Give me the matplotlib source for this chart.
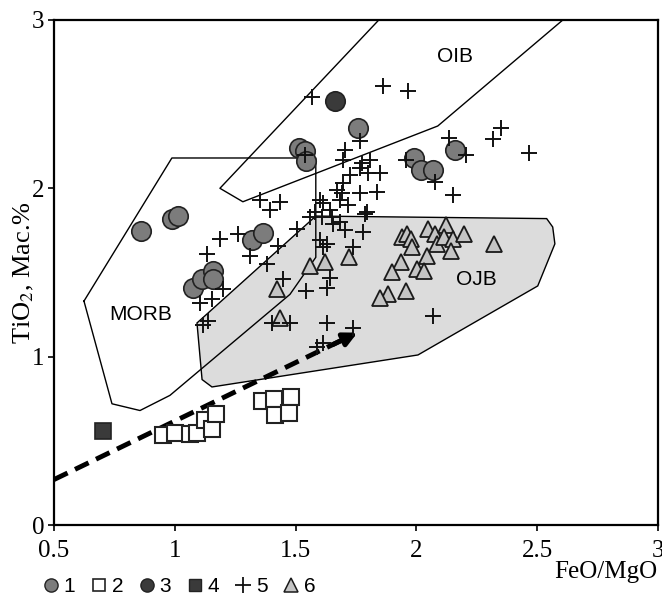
import matplotlib
matplotlib.use("Agg")
import matplotlib.pyplot as plt
from matplotlib.lines import Line2D

plt.rcParams['font.family'] = ['Liberation Serif', 'DejaVu Serif']
plt.rcParams['mathtext.fontset'] = 'stix'

# field outlines (FeO/MgO, TiO2)
morb_x = [0.624, 0.988, 1.584, 1.584, 1.477, 0.98, 0.856, 0.74, 0.624]
morb_y = [1.33, 2.18, 2.18, 1.59, 1.37, 0.77, 0.68, 0.72, 1.33]
oib_x = [1.845, 1.187, 1.282, 2.089, 2.607]
oib_y = [3.0, 2.0, 1.92, 2.37, 3.0]
ojb_x = [1.092, 1.113, 1.154, 2.007, 2.503, 2.574, 2.565, 2.54, 1.584, 1.092]
ojb_y = [1.20, 0.864, 0.82, 1.01, 1.42, 1.67, 1.77, 1.82, 1.835, 1.20]

# 1 - gray circles
s1_x = [0.860, 0.988, 1.013, 1.320, 1.365, 1.075, 1.113, 1.158, 1.158,
        1.514, 1.539, 1.543, 1.758, 1.990, 2.019, 2.069, 2.160]
s1_y = [1.745, 1.82, 1.835, 1.69, 1.735, 1.41, 1.46, 1.51, 1.46,
        2.24, 2.22, 2.16, 2.36, 2.18, 2.11, 2.11, 2.23]
# 2 - open squares
s2_x = [0.951, 1.001, 1.063, 1.092, 1.125, 1.154, 1.171, 1.361, 1.411, 1.415, 1.481, 1.473]
s2_y = [0.534, 0.546, 0.540, 0.546, 0.624, 0.570, 0.660, 0.738, 0.750, 0.654, 0.762, 0.666]
# 3 - dark circle
s3_x = [1.663]
s3_y = [2.52]
# 4 - dark square
s4_x = [0.703]
s4_y = [0.558]
# 5 - crosses
s5_x = [1.568, 1.862, 1.965, 2.350, 2.317, 2.135, 2.205, 2.466, 1.957, 2.077, 2.152, 2.069,
        1.787, 1.704, 1.779, 1.601, 1.738, 1.642, 1.543, 1.630, 1.448, 1.630, 1.738, 1.613,
        1.589, 1.477, 1.506, 1.560, 1.837, 1.767, 1.671, 1.696, 1.601, 1.642, 1.684, 1.580,
        1.767, 1.704, 1.696, 1.775, 1.808, 1.849, 1.800, 1.767, 1.725, 1.692, 1.796, 1.717,
        1.613, 1.609, 1.651, 1.539, 1.353, 1.394, 1.435, 1.262, 1.187, 1.311, 1.427, 1.133,
        1.382, 1.104, 1.154, 1.137, 1.117, 1.200, 1.613, 1.402, 1.684, 1.655, 1.630]
s5_y = [2.54, 2.61, 2.58, 2.36, 2.29, 2.30, 2.20, 2.21, 2.17, 2.04, 1.96, 1.24,
        1.85, 1.75, 1.74, 1.69, 1.65, 1.47, 1.39, 1.41, 1.46, 1.20, 1.17, 1.08,
        1.06, 1.20, 1.76, 1.83, 1.98, 1.97, 1.99, 2.03, 1.93, 1.87, 1.80, 1.86,
        2.28, 2.23, 2.17, 2.15, 2.17, 2.09, 2.09, 2.12, 2.08, 1.97, 1.86, 1.90,
        1.91, 1.83, 1.83, 2.20, 1.93, 1.87, 1.92, 1.73, 1.70, 1.60, 1.66, 1.61,
        1.55, 1.32, 1.34, 1.21, 1.19, 1.40, 1.65, 1.20, 1.93, 1.79, 1.67]
# 6 - gray triangles
s6_x = [1.940, 1.961, 1.978, 1.982, 2.048, 2.077, 2.085, 2.122, 2.114, 2.152, 2.143, 2.197,
        2.321, 2.044, 1.936, 1.899, 2.002, 2.031, 1.957, 1.882, 1.849, 1.721, 1.622, 1.560,
        1.423, 1.435]
s6_y = [1.71, 1.73, 1.70, 1.65, 1.76, 1.73, 1.67, 1.78, 1.71, 1.70, 1.63, 1.73,
        1.67, 1.60, 1.56, 1.50, 1.52, 1.51, 1.39, 1.37, 1.35, 1.59, 1.56, 1.54,
        1.40, 1.23]

# trend arrow
arrow_x = [0.5, 1.767]
arrow_y = [0.27, 1.15]

fig = plt.figure(figsize=(6.62, 5.97), dpi=100)
ax = fig.add_axes([0.0816, 0.1206, 0.912, 0.846])

ax.fill(ojb_x, ojb_y, facecolor='#dcdcdc', edgecolor='black', lw=1.0, zorder=1)
ax.plot(morb_x, morb_y, color='black', lw=1.0, zorder=2)
ax.plot(oib_x, oib_y, color='black', lw=1.0, zorder=2)

ax.text(0.86, 1.25, 'MORB', fontsize=15, family='Liberation Sans', ha='center', va='center')
ax.text(2.16, 2.78, 'OIB', fontsize=15, family='Liberation Sans', ha='center', va='center')
ax.text(2.25, 1.46, 'OJB', fontsize=15, family='Liberation Sans', ha='center', va='center')

# dashed trend with solid head
fx = arrow_x[0] + 0.95 * (arrow_x[1] - arrow_x[0])
fy = arrow_y[0] + 0.95 * (arrow_y[1] - arrow_y[0])
ax.plot([arrow_x[0], fx], [arrow_y[0], fy], color='black', lw=3.5,
        dashes=(3.1, 1.7), solid_capstyle='butt', zorder=3)
ax.annotate('', xy=(arrow_x[1], arrow_y[1]), xytext=(fx - 0.06, fy - 0.042),
            arrowprops=dict(arrowstyle='-|>', color='black', lw=3.5, mutation_scale=20),
            zorder=3)

ax.plot(s2_x, s2_y, 's', ms=11.5, mfc='white', mec='#222222', mew=1.5, ls='none', zorder=4)
ax.plot(s4_x, s4_y, 's', ms=11.5, mfc='#3a3a3a', mec='#222222', mew=1.2, ls='none', zorder=4)
ax.plot(s6_x, s6_y, '^', ms=12, mfc='#c4c4c4', mec='#1a1a1a', mew=1.3, ls='none', zorder=4)
ax.plot(s1_x, s1_y, 'o', ms=14, mfc='#7c7c7c', mec='#222222', mew=1.2, ls='none', zorder=5)
ax.plot(s3_x, s3_y, 'o', ms=14, mfc='#3a3a3a', mec='#222222', mew=1.2, ls='none', zorder=5)
ax.plot(s5_x, s5_y, '+', ms=12, color='#111111', mew=1.4, ls='none', zorder=6)

ax.set_xlim(0.5, 3)
ax.set_ylim(0, 3)
ax.set_xticks([0.5, 1, 1.5, 2, 2.5, 3])
ax.set_xticklabels(['0.5', '1', '1.5', '2', '2.5', '3'])
ax.set_yticks([0, 1, 2, 3])
for sp in ax.spines.values():
    sp.set_linewidth(1.6)
ax.tick_params(direction='out', length=4, width=1.2, labelsize=18)
ax.tick_params(axis='x', pad=7)
ax.tick_params(axis='y', pad=3)

fig.text(0.036, 0.543, 'TiO$_2$, Мас.%', rotation=90, fontsize=19,
         ha='center', va='center')
fig.text(0.993, 0.042, 'FeO/MgO', fontsize=18, ha='right', va='center')

handles = [
    Line2D([], [], marker='o', ls='none', ms=9.5, mfc='#7c7c7c', mec='#222222', mew=1.0),
    Line2D([], [], marker='s', ls='none', ms=9, mfc='white', mec='#222222', mew=1.2),
    Line2D([], [], marker='o', ls='none', ms=9.5, mfc='#3a3a3a', mec='#222222', mew=1.0),
    Line2D([], [], marker='s', ls='none', ms=9, mfc='#3a3a3a', mec='#222222', mew=1.0),
    Line2D([], [], marker='+', ls='none', ms=11, color='#111111', mew=1.3),
    Line2D([], [], marker='^', ls='none', ms=10.5, mfc='#c4c4c4', mec='#1a1a1a', mew=1.1),
]
fig.legend(handles, ['1', '2', '3', '4', '5', '6'], ncol=6, frameon=False,
           loc='center left', bbox_to_anchor=(0.052, 0.017),
           prop={'family': 'Liberation Sans', 'size': 15},
           handlelength=0.6, handletextpad=0.3, columnspacing=0.85, borderpad=0)

fig.savefig('out.png', dpi=100)
